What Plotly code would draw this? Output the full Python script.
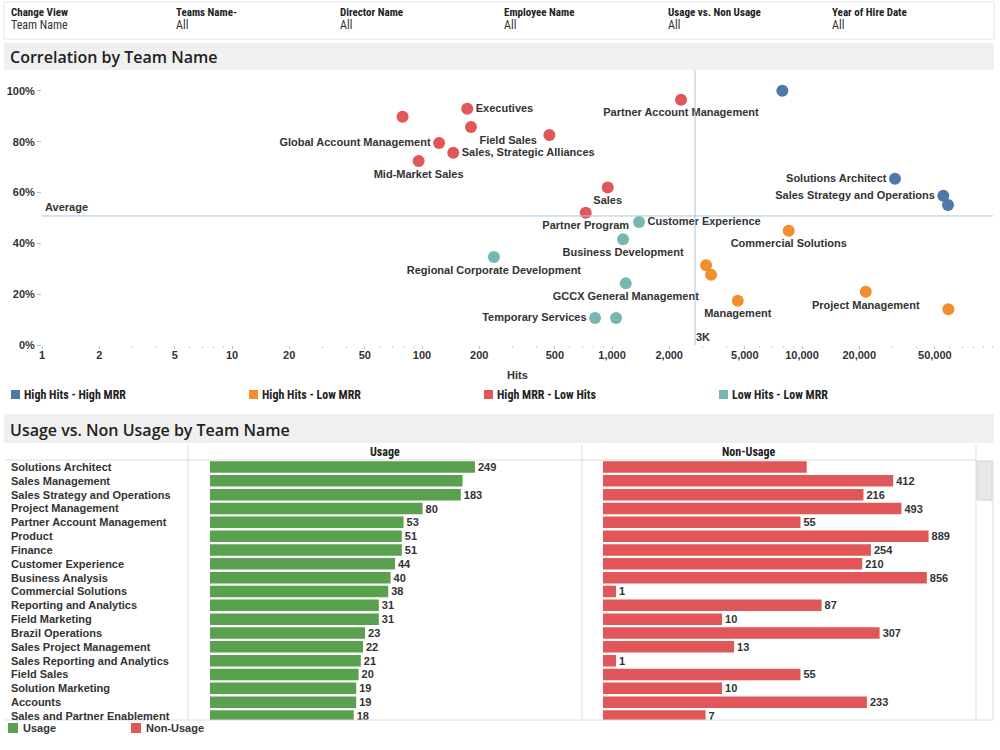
import math
import plotly.graph_objects as go

# ---------------- DATA ----------------
filter_titles = ["Change View", "Teams Name-", "Director Name", "Employee Name",
                 "Usage vs. Non Usage", "Year of Hire Date"]
filter_values = ["Team Name", "All", "All", "All", "All", "All"]

quadrants = ["High Hits - High MRR", "High Hits - Low MRR", "High MRR - Low Hits", "Low Hits - Low MRR"]
quad_colors = ["#4E79A7", "#F28E2B", "#E15759", "#76B7B2"]

# scatter: label, hits, MRR %, quadrant
sc_label = ["", "Executives", "Field Sales", "Global Account Management", "Sales, Strategic Alliances",
            "Mid-Market Sales", "", "Partner Account Management", "Sales", "Partner Program",
            "", "Solutions Architect", "Sales Strategy and Operations", "",
            "Customer Experience", "Business Development", "Regional Corporate Development",
            "GCCX General Management", "Temporary Services", "",
            "Commercial Solutions", "", "", "Management", "Project Management", ""]
sc_hits = [79, 173, 181, 123, 146, 96, 468, 2307, 949, 727,
           7875, 30850, 55400, 58650,
           1387, 1143, 239, 1181, 814, 1050,
           8510, 3125, 3320, 4590, 21650, 58900]
sc_mrr = [89.8, 92.9, 85.8, 79.5, 75.6, 72.4, 82.6, 96.5, 62.0, 52.1,
          100.0, 65.4, 58.7, 55.1,
          48.4, 41.6, 34.7, 24.3, 10.7, 10.7,
          45.0, 31.4, 27.7, 17.5, 21.0, 14.1]
sc_quad = [2, 2, 2, 2, 2, 2, 2, 2, 2, 2,
           0, 0, 0, 0,
           3, 3, 3, 3, 3, 3,
           1, 1, 1, 1, 1, 1]
sc_textpos = ["middle right", "middle right", "bottom right", "middle left", "middle right",
              "bottom center", "middle right", "bottom center", "bottom center", "bottom center",
              "middle left", "middle left", "middle left", "middle left",
              "middle right", "bottom center", "bottom center", "bottom center", "middle left", "middle left",
              "bottom center", "middle right", "middle right", "bottom center", "bottom center", "middle left"]
avg_mrr = 50.8
avg_hits = 2735
y_ticks = [0, 20, 40, 60, 80, 100]
x_ticks = [1, 2, 5, 10, 20, 50, 100, 200, 500, 1000, 2000, 5000, 10000, 20000, 50000]

# bars
bar_teams = ["Solutions Architect", "Sales Management", "Sales Strategy and Operations", "Project Management",
             "Partner Account Management", "Product", "Finance", "Customer Experience", "Business Analysis",
             "Commercial Solutions", "Reporting and Analytics", "Field Marketing", "Brazil Operations",
             "Sales Project Management", "Sales Reporting and Analytics", "Field Sales", "Solution Marketing",
             "Accounts", "Sales and Partner Enablement"]
usage = [249, 190, 183, 80, 53, 51, 51, 44, 40, 38, 31, 31, 23, 22, 21, 20, 19, 19, 18]
usage_text = ["249", "", "183", "80", "53", "51", "51", "44", "40", "38", "31", "31", "23", "22", "21",
              "20", "19", "19", "18"]
non_usage = [63, 412, 216, 493, 55, 889, 254, 210, 856, 1, 87, 10, 307, 13, 1, 55, 10, 233, 7]
non_usage_text = ["", "412", "216", "493", "55", "889", "254", "210", "856", "1", "87", "10", "307",
                  "13", "1", "55", "10", "233", "7"]
bar_series = ["Usage", "Non-Usage"]
bar_colors = ["#59A14F", "#E15759"]

# ---------------- STYLE ----------------
W, H = 1000, 750
BOLD = "Liberation Sans, Arial, sans-serif"
NARROW = "Liberation Sans Narrow, Arial Narrow, Roboto Condensed, Liberation Sans, sans-serif"
TITLE = "Open Sans, Lato, sans-serif"
TXT = "#333333"
REF = "#a9c6de"
PADX = 2  # annotation inner padding compensation


def px(x):
    return x / W


def py(y):
    return 1 - y / H


fig = go.Figure()

# scatter traces
for qi, q in enumerate(quadrants):
    idx = [i for i in range(len(sc_hits)) if sc_quad[i] == qi]
    fig.add_trace(go.Scatter(
        x=[sc_hits[i] for i in idx], y=[sc_mrr[i] for i in idx],
        text=[sc_label[i] for i in idx], textposition=[sc_textpos[i] for i in idx],
        mode="markers+text", name=q, showlegend=False,
        marker=dict(size=12, color=quad_colors[qi], line=dict(width=0)),
        textfont=dict(family=BOLD, size=11, color=TXT, weight="bold"),
        cliponaxis=False, xaxis="x", yaxis="y"))

# bar traces
fig.add_trace(go.Bar(y=bar_teams, x=usage, orientation="h", text=usage_text, textposition="outside",
                     marker=dict(color=bar_colors[0], line=dict(width=0)), name=bar_series[0],
                     textfont=dict(family=BOLD, size=11, color=TXT, weight="bold"),
                     constraintext="none", cliponaxis=True, showlegend=False, xaxis="x2", yaxis="y2"))
fig.add_trace(go.Bar(y=bar_teams, x=non_usage, orientation="h", text=non_usage_text, textposition="outside",
                     marker=dict(color=bar_colors[1], line=dict(width=0)), name=bar_series[1],
                     textfont=dict(family=BOLD, size=11, color=TXT, weight="bold"),
                     constraintext="none", cliponaxis=True, showlegend=False, xaxis="x3", yaxis="y3"))

shapes = []
annotations = []


def left_text(x, y, t, font, yref="paper"):
    annotations.append(dict(x=px(x - PADX), y=(py(y) if yref == "paper" else y), xref="paper", yref=yref,
                            text=t, showarrow=False, xanchor="left", yanchor="middle", font=font))


# filter bar
shapes.append(dict(type="rect", xref="paper", yref="paper", x0=px(4), x1=px(994), y0=py(2), y1=py(39),
                   fillcolor="white", line=dict(color="#e4e4e4", width=1), layer="below"))
fx = [11, 176, 340, 504, 668, 832]
for i, t in enumerate(filter_titles):
    left_text(fx[i], 12, t, dict(family=NARROW, size=11, color="#222", weight="bold"))
    left_text(fx[i], 25, filter_values[i], dict(family=NARROW, size=12, color="#333"))

# title bands
for (y0, y1, t) in [(43, 70, "Correlation by Team Name"), (414, 443, "Usage vs. Non Usage by Team Name")]:
    shapes.append(dict(type="rect", xref="paper", yref="paper", x0=px(4), x1=px(994), y0=py(y0), y1=py(y1),
                       fillcolor="#f0f0f0", line=dict(width=0), layer="below"))
    left_text(10, (y0 + y1) / 2 + 1, t, dict(family=TITLE, size=16, color="#222", weight=600))

# reference lines
shapes.append(dict(type="line", xref="paper", yref="y", x0=px(42), x1=px(993), y0=avg_mrr, y1=avg_mrr,
                   line=dict(color=REF, width=1)))
shapes.append(dict(type="line", xref="x", yref="paper", x0=avg_hits, x1=avg_hits,
                   y0=py(345), y1=py(70), line=dict(color=REF, width=1)))
annotations.append(dict(x=px(45 - PADX), y=avg_mrr, xref="paper", yref="y", text="Average", showarrow=False,
                        xanchor="left", yanchor="bottom", yshift=1,
                        font=dict(family=BOLD, size=11, color=TXT, weight="bold")))
annotations.append(dict(x=math.log10(avg_hits), y=3.2, xref="x", yref="y", text="3K", showarrow=False,
                        xanchor="left", yanchor="middle", xshift=-1,
                        font=dict(family=BOLD, size=11, color=TXT, weight="bold")))

# scatter legend
lx = [11, 249, 484, 719]
for i, q in enumerate(quadrants):
    shapes.append(dict(type="rect", xref="paper", yref="paper", x0=px(lx[i]), x1=px(lx[i] + 9),
                       y0=py(390), y1=py(399), fillcolor=quad_colors[i], line=dict(width=0)))
    left_text(lx[i] + 13, 395, q, dict(family=NARROW, size=12, color="#222", weight="bold"))

# bar table frame
for (x0, y0, x1, y1) in [(5, 460, 976, 460), (188, 445, 188, 720), (582, 445, 582, 720),
                         (976, 445, 976, 720), (5, 720, 993, 720), (993, 460, 993, 720)]:
    shapes.append(dict(type="line", xref="paper", yref="paper", x0=px(x0), x1=px(x1), y0=py(y0), y1=py(y1),
                       line=dict(color="#dcdcdc", width=1)))
shapes.append(dict(type="rect", xref="paper", yref="paper", x0=px(977), x1=px(992), y0=py(461), y1=py(500),
                   fillcolor="#e8e8e8", line=dict(color="#d4d4d4", width=1)))
annotations.append(dict(x=px(385), y=py(452), xref="paper", yref="paper", text=bar_series[0], showarrow=False,
                        font=dict(family=NARROW, size=12, color="#222", weight="bold")))
annotations.append(dict(x=px(778), y=py(452), xref="paper", yref="paper", text=bar_series[1], showarrow=False,
                        font=dict(family=NARROW, size=12, color="#222", weight="bold")))
for t in bar_teams:
    left_text(11, t, t, dict(family=BOLD, size=11, color=TXT, weight="bold"), yref="y2")

# bar legend
for i, (bx, s) in enumerate(zip([8, 131], bar_series)):
    shapes.append(dict(type="rect", xref="paper", yref="paper", x0=px(bx), x1=px(bx + 10),
                       y0=py(723), y1=py(733), fillcolor=bar_colors[i], line=dict(width=0)))
    left_text(bx + 15, 728, s, dict(family=BOLD, size=11, color=TXT, weight="bold"))

fig.update_layout(
    width=W, height=H, margin=dict(l=0, r=0, t=0, b=0, autoexpand=False),
    paper_bgcolor="white", plot_bgcolor="rgba(0,0,0,0)",
    showlegend=False, bargap=0.17,
    shapes=shapes, annotations=annotations,
    xaxis=dict(type="log", domain=[px(42), px(993)], range=[0, 5.005], anchor="y", automargin=False,
               tickvals=x_ticks, ticktext=[f"{v:,}" for v in x_ticks],
               ticks="outside", ticklen=3, tickcolor=REF, showgrid=False, zeroline=False, showline=False,
               ticklabelstandoff=-3,
               tickfont=dict(family=BOLD, size=11, color=TXT, weight="bold"),
               minor=dict(ticks="outside", ticklen=2, tickcolor="#c9d6e0", dtick="D1", showgrid=False),
               title=dict(text="Hits", standoff=10, font=dict(family=BOLD, size=11, color=TXT, weight="bold"))),
    yaxis=dict(domain=[py(345.2), py(75)], range=[0, 106.2], anchor="x", automargin=False,
               tickvals=y_ticks, ticktext=[f"{v}%" for v in y_ticks],
               ticks="outside", ticklen=4, tickcolor=REF, showgrid=False, zeroline=False, showline=False,
               tickfont=dict(family=BOLD, size=11, color=TXT, weight="bold")),
    xaxis2=dict(type="log", domain=[px(210), px(582)], range=[-0.097, 3.403], anchor="y2", automargin=False,
                showticklabels=False, showgrid=False, zeroline=False, ticks=""),
    yaxis2=dict(type="category", categoryorder="array", categoryarray=bar_teams, automargin=False,
                domain=[py(720), py(460)], range=[18.29, -0.506], anchor="x2",
                showticklabels=False, showgrid=False, zeroline=False, ticks=""),
    xaxis3=dict(type="log", domain=[px(603), px(975)], range=[-0.123, 3.387], anchor="y3", automargin=False,
                showticklabels=False, showgrid=False, zeroline=False, ticks=""),
    yaxis3=dict(type="category", categoryorder="array", categoryarray=bar_teams, automargin=False,
                domain=[py(720), py(460)], range=[18.29, -0.506], anchor="x3",
                showticklabels=False, showgrid=False, zeroline=False, ticks=""),
)

fig.write_html("out.html")
